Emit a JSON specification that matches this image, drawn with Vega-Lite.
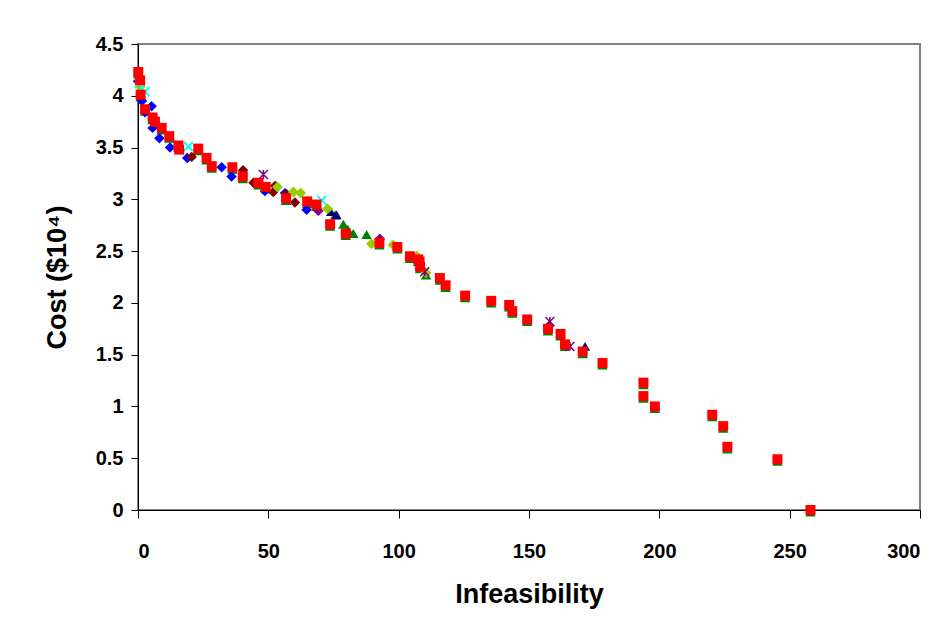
{
  "$schema": "https://vega.github.io/schema/vega-lite/v6.json",
  "width": 782,
  "height": 466,
  "autosize": {"type": "none"},
  "padding": {"left": 138, "top": 44, "right": 32, "bottom": 120},
  "background": "white",
  "config": {
    "view": {"stroke": "#808080", "strokeWidth": 2},
    "font": "Liberation Sans"
  },
  "data": {"values": [
    {"s":"G","x":0.1,"y":4.21},{"s":"G","x":0.8,"y":4.13},{"s":"G","x":1.0,"y":3.99},{"s":"G","x":2.7,"y":3.85},{"s":"G","x":5.6,"y":3.77},{"s":"G","x":9.1,"y":3.67},{"s":"G","x":12.0,"y":3.59},{"s":"G","x":15.5,"y":3.5},{"s":"G","x":23.1,"y":3.47},{"s":"G","x":26.3,"y":3.38},{"s":"G","x":28.3,"y":3.3},{"s":"G","x":36.2,"y":3.29},{"s":"G","x":40.2,"y":3.2},{"s":"G","x":46.2,"y":3.14},{"s":"G","x":49.0,"y":3.1},{"s":"G","x":56.8,"y":2.99},{"s":"G","x":64.9,"y":2.96},{"s":"G","x":68.5,"y":2.93},{"s":"G","x":73.7,"y":2.74},{"s":"G","x":75.6,"y":2.85},{"s":"G","x":78.8,"y":2.76},{"s":"G","x":80.5,"y":2.71},{"s":"G","x":82.6,"y":2.67},{"s":"G","x":87.7,"y":2.66},{"s":"G","x":79.7,"y":2.65},{"s":"G","x":92.6,"y":2.56},{"s":"G","x":99.5,"y":2.52},{"s":"G","x":104.3,"y":2.43},{"s":"G","x":107.5,"y":2.4},{"s":"G","x":108.2,"y":2.33},{"s":"G","x":110.5,"y":2.27},{"s":"G","x":115.8,"y":2.22},{"s":"G","x":118.0,"y":2.15},{"s":"G","x":125.5,"y":2.05},{"s":"G","x":135.5,"y":2.0},{"s":"G","x":142.4,"y":1.96},{"s":"G","x":143.6,"y":1.9},{"s":"G","x":149.3,"y":1.82},{"s":"G","x":157.3,"y":1.73},{"s":"G","x":162.1,"y":1.68},{"s":"G","x":163.8,"y":1.58},{"s":"G","x":170.6,"y":1.51},{"s":"G","x":178.2,"y":1.4},{"s":"G","x":193.9,"y":1.21},{"s":"G","x":193.9,"y":1.08},{"s":"G","x":198.3,"y":0.98},{"s":"G","x":220.3,"y":0.9},{"s":"G","x":224.5,"y":0.79},{"s":"G","x":226.1,"y":0.59},{"s":"G","x":245.3,"y":0.47},{"s":"G","x":258.0,"y":-0.02},
    {"s":"N","x":74.0,"y":2.88},{"s":"N","x":76.2,"y":2.85},{"s":"N","x":171.5,"y":1.58},
    {"s":"B","x":0.0,"y":4.14},{"s":"B","x":1.5,"y":3.95},{"s":"B","x":2.7,"y":3.84},{"s":"B","x":5.2,"y":3.9},{"s":"B","x":5.6,"y":3.69},{"s":"B","x":8.2,"y":3.59},{"s":"B","x":12.3,"y":3.5},{"s":"B","x":18.9,"y":3.4},{"s":"B","x":32.1,"y":3.31},{"s":"B","x":35.9,"y":3.22},{"s":"B","x":48.7,"y":3.08},{"s":"B","x":56.4,"y":3.06},{"s":"B","x":64.7,"y":2.9},{"s":"B","x":157.8,"y":1.78},
    {"s":"D","x":20.6,"y":3.41},{"s":"D","x":40.3,"y":3.28},{"s":"D","x":44.3,"y":3.16},{"s":"D","x":51.9,"y":3.07},{"s":"D","x":52.6,"y":3.13},{"s":"D","x":57.0,"y":3.05},{"s":"D","x":60.2,"y":2.97},
    {"s":"P","x":69.2,"y":2.89},{"s":"P","x":92.8,"y":2.62},
    {"s":"Y","x":0.8,"y":4.09},{"s":"Y","x":53.5,"y":3.12},{"s":"Y","x":59.6,"y":3.07},{"s":"Y","x":62.4,"y":3.06},{"s":"Y","x":72.7,"y":2.91},{"s":"Y","x":89.6,"y":2.57},{"s":"Y","x":97.9,"y":2.56},{"s":"Y","x":107.0,"y":2.45},{"s":"Y","x":110.5,"y":2.29},
    {"s":"C","x":0.5,"y":4.12},{"s":"C","x":2.7,"y":4.04},{"s":"C","x":19.3,"y":3.51},{"s":"C","x":70.5,"y":2.99},
    {"s":"A","x":48.1,"y":3.24},{"s":"A","x":110.0,"y":2.3},{"s":"A","x":158.0,"y":1.82},{"s":"A","x":165.7,"y":1.58},
    {"s":"R","x":0.1,"y":4.23},{"s":"R","x":0.8,"y":4.15},{"s":"R","x":1.0,"y":4.01},{"s":"R","x":2.7,"y":3.87},{"s":"R","x":5.6,"y":3.79},{"s":"R","x":6.5,"y":3.75},{"s":"R","x":9.1,"y":3.69},{"s":"R","x":12.0,"y":3.61},{"s":"R","x":15.5,"y":3.52},{"s":"R","x":15.8,"y":3.48},{"s":"R","x":23.1,"y":3.49},{"s":"R","x":26.3,"y":3.4},{"s":"R","x":28.3,"y":3.32},{"s":"R","x":36.2,"y":3.31},{"s":"R","x":40.2,"y":3.22},{"s":"R","x":46.2,"y":3.16},{"s":"R","x":49.0,"y":3.12},{"s":"R","x":56.8,"y":3.01},{"s":"R","x":64.9,"y":2.98},{"s":"R","x":68.5,"y":2.95},{"s":"R","x":73.7,"y":2.76},{"s":"R","x":79.7,"y":2.67},{"s":"R","x":92.6,"y":2.58},{"s":"R","x":99.5,"y":2.54},{"s":"R","x":104.3,"y":2.45},{"s":"R","x":107.5,"y":2.42},{"s":"R","x":108.0,"y":2.4},{"s":"R","x":108.2,"y":2.35},{"s":"R","x":115.8,"y":2.24},{"s":"R","x":118.0,"y":2.17},{"s":"R","x":125.5,"y":2.07},{"s":"R","x":135.5,"y":2.02},{"s":"R","x":142.4,"y":1.98},{"s":"R","x":143.6,"y":1.92},{"s":"R","x":149.3,"y":1.84},{"s":"R","x":157.3,"y":1.75},{"s":"R","x":162.1,"y":1.7},{"s":"R","x":163.8,"y":1.6},{"s":"R","x":170.6,"y":1.53},{"s":"R","x":178.2,"y":1.42},{"s":"R","x":193.9,"y":1.23},{"s":"R","x":193.9,"y":1.1},{"s":"R","x":198.3,"y":1.0},{"s":"R","x":220.3,"y":0.92},{"s":"R","x":224.5,"y":0.81},{"s":"R","x":226.1,"y":0.61},{"s":"R","x":245.3,"y":0.49},{"s":"R","x":258.0,"y":0.0}
  ]},
  "encoding": {
    "x": {"field": "x", "type": "quantitative",
      "scale": {"domain": [0, 300], "nice": false, "zero": false},
      "axis": {"title": "Infeasibility", "values": [0,50,100,150,200,250,300], "format": "d",
        "grid": false, "domainColor": "#000000", "domainWidth": 1, "tickColor": "#000000", "tickSize": 8,
        "labelFont": "Liberation Sans", "labelFontSize": 20, "labelFontWeight": "bold", "labelColor": "#000000", "labelPadding": 23,
        "titleFont": "Liberation Sans", "titleFontSize": 27, "titleFontWeight": "bold", "titleColor": "#000000", "titlePadding": 20}},
    "y": {"field": "y", "type": "quantitative",
      "scale": {"domain": [0, 4.5], "nice": false, "zero": false},
      "axis": {"title": "Cost ($10⁴)", "values": [0,0.5,1,1.5,2,2.5,3,3.5,4,4.5], "format": "~g",
        "grid": false, "domainColor": "#000000", "domainWidth": 1, "tickColor": "#000000", "tickSize": 7,
        "labelFont": "Liberation Sans", "labelFontSize": 20, "labelFontWeight": "bold", "labelColor": "#000000", "labelPadding": 8,
        "titleFont": "Liberation Sans", "titleFontSize": 27, "titleFontWeight": "bold", "titleColor": "#000000", "titlePadding": 24}}
  },
  "layer": [
    {"transform": [{"filter": "datum.s === 'G'"}], "mark": {"type": "point", "shape": "triangle-up", "filled": true, "color": "#008000", "size": 110, "opacity": 1, "clip": false}},
    {"transform": [{"filter": "datum.s === 'N'"}], "mark": {"type": "point", "shape": "triangle-up", "filled": true, "color": "#000080", "size": 100, "opacity": 1}},
    {"transform": [{"filter": "datum.s === 'B'"}], "mark": {"type": "point", "shape": "diamond", "filled": true, "color": "#0000FF", "size": 110, "opacity": 1}},
    {"transform": [{"filter": "datum.s === 'D'"}], "mark": {"type": "point", "shape": "diamond", "filled": true, "color": "#800000", "size": 110, "opacity": 1}},
    {"transform": [{"filter": "datum.s === 'P'"}], "mark": {"type": "point", "shape": "diamond", "filled": true, "color": "#800080", "size": 110, "opacity": 1}},
    {"transform": [{"filter": "datum.s === 'Y'"}], "mark": {"type": "point", "shape": "diamond", "filled": true, "color": "#99CC00", "size": 120, "opacity": 1}},
    {"transform": [{"filter": "datum.s === 'C'"}], "mark": {"type": "point", "shape": "M-1,-1L1,1M-1,1L1,-1", "filled": false, "color": "#00FFFF", "strokeWidth": 2, "size": 80, "opacity": 1}},
    {"transform": [{"filter": "datum.s === 'A'"}], "mark": {"type": "point", "shape": "M-1,-1L1,1M-1,1L1,-1M0,-1L0,1", "filled": false, "color": "#800080", "strokeWidth": 1.5, "size": 80, "opacity": 1}},
    {"transform": [{"filter": "datum.s === 'R'"}], "mark": {"type": "point", "shape": "square", "filled": true, "color": "#FF0000", "size": 100, "opacity": 1, "clip": false}}
  ]
}
